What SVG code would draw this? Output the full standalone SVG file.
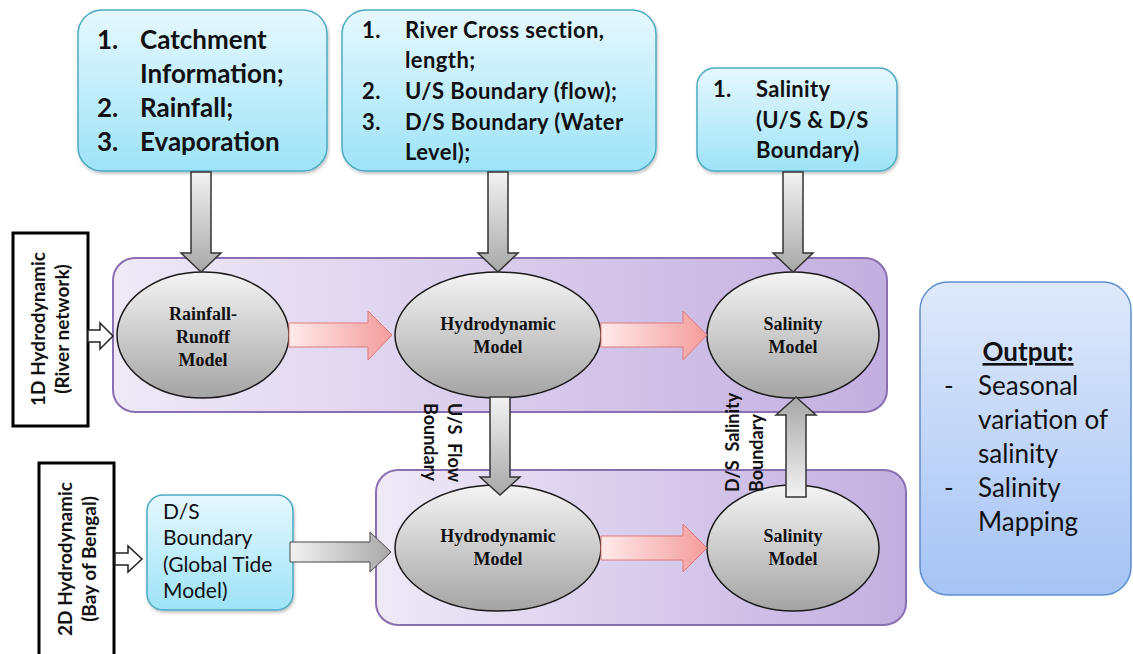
<svg xmlns="http://www.w3.org/2000/svg" width="1133" height="654" viewBox="0 0 1133 654">
<defs>
<linearGradient id="gBlue" x1="0" y1="0" x2="0" y2="1"><stop offset="0" stop-color="#e6f8fe"/><stop offset="1" stop-color="#9de3f7"/></linearGradient>
<linearGradient id="gOut" x1="0" y1="0" x2="0" y2="1"><stop offset="0" stop-color="#dfe9fb"/><stop offset="1" stop-color="#a5c3f4"/></linearGradient>
<linearGradient id="gPurple" x1="0" y1="0" x2="1" y2="0"><stop offset="0" stop-color="#efe9f7"/><stop offset="1" stop-color="#c2afe0"/></linearGradient>
<linearGradient id="gEll" x1="0" y1="0" x2="0" y2="1"><stop offset="0" stop-color="#f4f4f4"/><stop offset="1" stop-color="#a4a4a4"/></linearGradient>
<linearGradient id="gRed" x1="0" y1="0" x2="1" y2="0"><stop offset="0" stop-color="#ffeaea"/><stop offset="1" stop-color="#f49c9c"/></linearGradient>
<linearGradient id="gGrayV" x1="0" y1="0" x2="0" y2="1"><stop offset="0" stop-color="#f2f2f2"/><stop offset="1" stop-color="#a8a8a8"/></linearGradient>
<linearGradient id="gGrayU" x1="0" y1="1" x2="0" y2="0"><stop offset="0" stop-color="#f2f2f2"/><stop offset="1" stop-color="#a8a8a8"/></linearGradient>
<linearGradient id="gGrayH" x1="0" y1="0" x2="1" y2="0"><stop offset="0" stop-color="#f2f2f2"/><stop offset="1" stop-color="#a8a8a8"/></linearGradient>
<filter id="sh" x="-10%" y="-10%" width="120%" height="130%"><feDropShadow dx="1" dy="2" stdDeviation="1.5" flood-color="#000" flood-opacity="0.25"/></filter>
</defs>
<style>
.inbox{fill:url(#gBlue);stroke:#4eaac4;stroke-width:1.5;filter:url(#sh)}
.cont{fill:url(#gPurple);stroke:#8a6fb3;stroke-width:2}
.ell{fill:url(#gEll);stroke:#1a1a1a;stroke-width:1.5}
.red{fill:url(#gRed);stroke:#e07a7a;stroke-width:1}
.gv{fill:url(#gGrayV);stroke:#333;stroke-width:1.5}
.gu{fill:url(#gGrayU);stroke:#333;stroke-width:1.5}
.gh{fill:url(#gGrayH);stroke:#444;stroke-width:1}
.wa{fill:#fff;stroke:#222;stroke-width:1.5}
.lab{fill:#fff;stroke:#000;stroke-width:3}
.tb{font-family:Lato,"Liberation Sans",sans-serif;font-weight:bold;fill:#111}
.tr{font-family:Lato,"Liberation Sans",sans-serif;fill:#111}
.tm{font-family:"Liberation Serif",serif;font-weight:bold;font-size:18px;fill:#111;text-anchor:middle}
</style>

<g id="containers">
<rect id="upper-container" class="cont" x="113" y="258" width="774" height="154" rx="22"/>
<rect id="lower-container" class="cont" x="376" y="470" width="530" height="155" rx="22"/>
</g>

<g id="input-catchment">
<rect class="inbox" x="78" y="10" width="249" height="161" rx="24"/>
<g class="tb" font-size="26">
<text x="97" y="49">1.</text><text x="140" y="49">Catchment</text>
<text x="140" y="83">Information;</text>
<text x="97" y="117">2.</text><text x="140" y="117">Rainfall;</text>
<text x="97" y="151">3.</text><text x="140" y="151">Evaporation</text>
</g>
</g>

<g id="input-river">
<rect class="inbox" x="342" y="10" width="314" height="161" rx="24"/>
<g class="tb" font-size="22" letter-spacing="0.4">
<text x="362" y="38">1.</text><text x="405" y="38">River Cross section,</text>
<text x="405" y="68">length;</text>
<text x="362" y="99">2.</text><text x="405" y="99">U/S Boundary (flow);</text>
<text x="362" y="130">3.</text><text x="405" y="130">D/S Boundary (Water</text>
<text x="405" y="160">Level);</text>
</g>
</g>

<g id="input-salinity">
<rect class="inbox" x="697" y="68" width="200" height="103" rx="18"/>
<g class="tb" font-size="22" letter-spacing="0.3">
<text x="713" y="97">1.</text><text x="756" y="97">Salinity</text>
<text x="756" y="128">(U/S &amp; D/S</text>
<text x="756" y="158">Boundary)</text>
</g>
</g>

<g id="label-1d">
<rect class="lab" x="13" y="233" width="75" height="193"/>
<text class="tb" font-size="19" text-anchor="middle" transform="translate(45,329) rotate(-90)">1D Hydrodynamic</text>
<text class="tb" font-size="19" text-anchor="middle" transform="translate(69,329) rotate(-90)">(River network)</text>
</g>

<g id="label-2d">
<rect class="lab" x="39" y="463" width="75" height="210"/>
<text class="tb" font-size="19" text-anchor="middle" transform="translate(72,559) rotate(-90)">2D Hydrodynamic</text>
<text class="tb" font-size="19" text-anchor="middle" transform="translate(96,559) rotate(-90)">(Bay of Bengal)</text>
</g>

<g id="ds-boundary">
<rect class="inbox" x="147" y="495" width="146" height="115" rx="16"/>
<g class="tr" font-size="21">
<text x="163" y="519">D/S</text>
<text x="163" y="545">Boundary</text>
<text x="163" y="572">(Global Tide</text>
<text x="163" y="598">Model)</text>
</g>
</g>

<g id="rainfall-runoff">
<ellipse class="ell" cx="203" cy="335" rx="86" ry="63"/>
<text class="tm" x="203" y="320">Rainfall-</text>
<text class="tm" x="203" y="343">Runoff</text>
<text class="tm" x="203" y="366">Model</text>
</g>

<g id="hydro-1d">
<ellipse class="ell" cx="498" cy="335" rx="103" ry="63"/>
<text class="tm" x="498" y="330">Hydrodynamic</text>
<text class="tm" x="498" y="353">Model</text>
</g>

<g id="salinity-1d">
<ellipse class="ell" cx="793" cy="335" rx="86" ry="63"/>
<text class="tm" x="793" y="330">Salinity</text>
<text class="tm" x="793" y="353">Model</text>
</g>

<g id="hydro-2d">
<ellipse class="ell" cx="498" cy="548" rx="103" ry="63"/>
<text class="tm" x="498" y="542">Hydrodynamic</text>
<text class="tm" x="498" y="565">Model</text>
</g>

<g id="salinity-2d">
<ellipse class="ell" cx="793" cy="548" rx="86" ry="63"/>
<text class="tm" x="793" y="542">Salinity</text>
<text class="tm" x="793" y="565">Model</text>
</g>

<g id="output">
<rect x="920" y="282" width="211" height="313" rx="28" fill="url(#gOut)" stroke="#5d8fcf" stroke-width="1.5"/>
<text class="tb" font-size="26" x="1028" y="361" text-anchor="middle" text-decoration="underline">Output:</text>
<g class="tr" font-size="26">
<text x="944" y="395">-</text><text x="978" y="395">Seasonal</text>
<text x="978" y="429">variation of</text>
<text x="978" y="463">salinity</text>
<text x="944" y="497">-</text><text x="978" y="497">Salinity</text>
<text x="978" y="531">Mapping</text>
</g>
</g>

<g id="connectors">
<path class="gv" d="M191,172 H211 V253 H221 L201,272 L181,253 H191 Z"/>
<path class="gv" d="M488,172 H508 V253 H518 L498,272 L478,253 H488 Z"/>
<path class="gv" d="M783,172 H803 V253 H813 L793,272 L773,253 H783 Z"/>
<path class="gv" d="M490,397 H510 V477 H520 L500,495 L480,477 H490 Z"/>
<path class="gu" d="M786,497 H806 V415 H816 L796,397 L776,415 H786 Z"/>
<path class="red" d="M289,323 H368 V311 L392,335 L368,360 V347 H289 Z"/>
<path class="red" d="M601,323 H683 V311 L707,335 L683,360 V347 H601 Z"/>
<path class="red" d="M601,536 H683 V524 L707,548 L683,572 V560 H601 Z"/>
<path class="gh" d="M290,542 H370 V532 L391,552 L370,572 V562 H290 Z"/>
<path class="wa" d="M88,330 H100 V323 L113,336 L100,349 V342 H88 Z"/>
<path class="wa" d="M115,553 H128 V546 L142,559 L128,572 V565 H115 Z"/>
<text class="tb" font-size="18" transform="translate(448,403) rotate(90)" xml:space="preserve">U/S  Flow</text>
<text class="tb" font-size="18" transform="translate(424,403) rotate(90)">Boundary</text>
<text class="tb" font-size="18" transform="translate(739,492) rotate(-90)" xml:space="preserve">D/S  Salinity</text>
<text class="tb" font-size="18" transform="translate(763,492) rotate(-90)">Boundary</text>
</g>
</svg>
